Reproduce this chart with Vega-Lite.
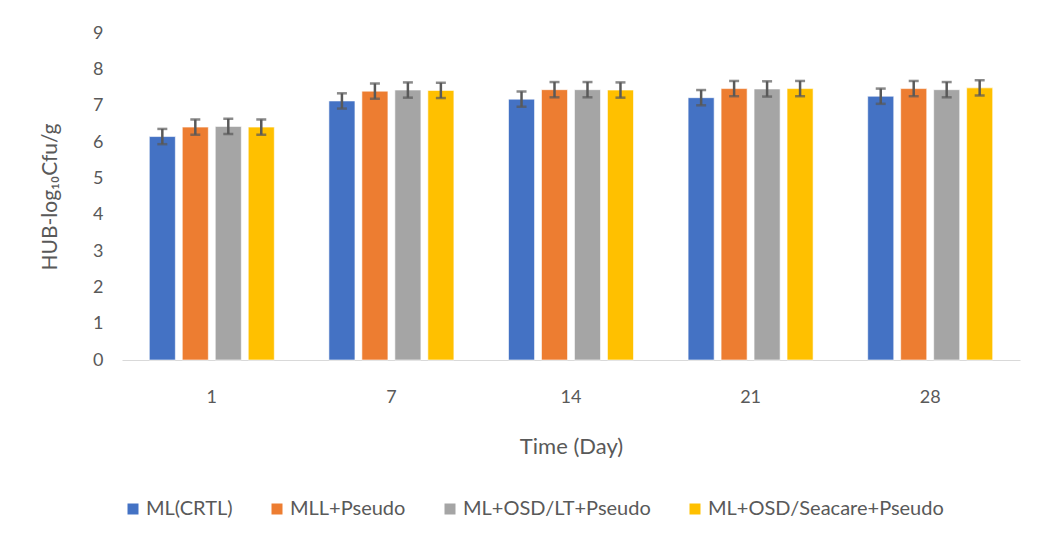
{
  "$schema": "https://vega.github.io/schema/vega-lite/v6.json",
  "autosize": {"type": "none"},
  "width": 898,
  "height": 327,
  "padding": {"left": 122, "top": 33, "right": 19, "bottom": 186},
  "background": "white",
  "config": {
    "view": {"stroke": null},
    "font": "Lato",
    "axis": {"labelFont": "Lato", "titleFont": "Lato", "labelColor": "#595959", "titleColor": "#595959", "titleFontWeight": "normal"},
    "axisY": {"title": "HUB-log₁₀Cfu/g", "values": [0, 1, 2, 3, 4, 5, 6, 7, 8, 9], "labelOverlap": false, "grid": false, "domain": false, "ticks": false, "labelPadding": 19, "labelFontSize": 18, "titleFontSize": 21, "titlePadding": 32},
    "legend": {"labelFont": "Lato"}
  },
  "data": {
    "values": [
      {"day": "1", "group": "ML(CRTL)", "value": 6.15, "low": 5.94, "high": 6.36},
      {"day": "1", "group": "MLL+Pseudo", "value": 6.41, "low": 6.20, "high": 6.62},
      {"day": "1", "group": "ML+OSD/LT+Pseudo", "value": 6.43, "low": 6.22, "high": 6.64},
      {"day": "1", "group": "ML+OSD/Seacare+Pseudo", "value": 6.41, "low": 6.20, "high": 6.62},
      {"day": "7", "group": "ML(CRTL)", "value": 7.13, "low": 6.92, "high": 7.34},
      {"day": "7", "group": "MLL+Pseudo", "value": 7.40, "low": 7.19, "high": 7.61},
      {"day": "7", "group": "ML+OSD/LT+Pseudo", "value": 7.43, "low": 7.22, "high": 7.64},
      {"day": "7", "group": "ML+OSD/Seacare+Pseudo", "value": 7.42, "low": 7.21, "high": 7.63},
      {"day": "14", "group": "ML(CRTL)", "value": 7.18, "low": 6.97, "high": 7.39},
      {"day": "14", "group": "MLL+Pseudo", "value": 7.44, "low": 7.23, "high": 7.65},
      {"day": "14", "group": "ML+OSD/LT+Pseudo", "value": 7.44, "low": 7.23, "high": 7.65},
      {"day": "14", "group": "ML+OSD/Seacare+Pseudo", "value": 7.43, "low": 7.22, "high": 7.64},
      {"day": "21", "group": "ML(CRTL)", "value": 7.22, "low": 7.01, "high": 7.43},
      {"day": "21", "group": "MLL+Pseudo", "value": 7.47, "low": 7.26, "high": 7.68},
      {"day": "21", "group": "ML+OSD/LT+Pseudo", "value": 7.46, "low": 7.25, "high": 7.67},
      {"day": "21", "group": "ML+OSD/Seacare+Pseudo", "value": 7.47, "low": 7.26, "high": 7.68},
      {"day": "28", "group": "ML(CRTL)", "value": 7.26, "low": 7.05, "high": 7.47},
      {"day": "28", "group": "MLL+Pseudo", "value": 7.47, "low": 7.26, "high": 7.68},
      {"day": "28", "group": "ML+OSD/LT+Pseudo", "value": 7.44, "low": 7.23, "high": 7.65},
      {"day": "28", "group": "ML+OSD/Seacare+Pseudo", "value": 7.49, "low": 7.28, "high": 7.70}
    ]
  },
  "encoding": {
    "x": {
      "field": "day", "type": "nominal", "sort": ["1", "7", "14", "21", "28"],
      "scale": {"paddingInner": 0.304, "paddingOuter": 0.152},
      "axis": {"title": "Time (Day)", "labelAngle": 0, "ticks": false, "labelPadding": 28, "labelFontSize": 18, "titleFontSize": 22, "titlePadding": 30, "domainColor": "#D9D9D9", "domainWidth": 1}
    },
    "xOffset": {
      "field": "group", "type": "nominal",
      "sort": ["ML(CRTL)", "MLL+Pseudo", "ML+OSD/LT+Pseudo", "ML+OSD/Seacare+Pseudo"],
      "scale": {"paddingInner": 0.21, "paddingOuter": 0}
    }
  },
  "layer": [
    {
      "mark": {"type": "bar", "stroke": "white", "strokeWidth": 0.6},
      "encoding": {
        "y": {
          "field": "value", "type": "quantitative",
          "scale": {"domain": [0, 9]},
          "axis": {"title": "HUB-log₁₀Cfu/g", "values": [0, 1, 2, 3, 4, 5, 6, 7, 8, 9], "labelOverlap": false}
        },
        "color": {
          "field": "group", "type": "nominal",
          "sort": ["ML(CRTL)", "MLL+Pseudo", "ML+OSD/LT+Pseudo", "ML+OSD/Seacare+Pseudo"],
          "scale": {"range": ["#4472C4", "#ED7D31", "#A5A5A5", "#FFC000"]},
          "legend": {
            "title": null, "orient": "none", "direction": "horizontal",
            "legendX": 1, "legendY": 466,
            "symbolType": "square", "symbolSize": 121, "symbolStrokeWidth": 0,
            "labelFontSize": 20, "labelColor": "#595959", "labelLimit": 400, "columnPadding": 34, "labelOffset": 3
          }
        }
      }
    },
    {
      "mark": {"type": "rule", "color": "#595959", "strokeWidth": 2.5},
      "encoding": {
        "y": {"field": "low", "type": "quantitative", "axis": {"title": "HUB-log₁₀Cfu/g", "values": [0, 1, 2, 3, 4, 5, 6, 7, 8, 9], "labelOverlap": false}},
        "y2": {"field": "high"}
      }
    },
    {
      "mark": {"type": "tick", "color": "#595959", "thickness": 2.5, "size": 10},
      "encoding": {"y": {"field": "low", "type": "quantitative", "axis": {"title": "HUB-log₁₀Cfu/g", "values": [0, 1, 2, 3, 4, 5, 6, 7, 8, 9], "labelOverlap": false}}}
    },
    {
      "mark": {"type": "tick", "color": "#595959", "thickness": 2.5, "size": 10},
      "encoding": {"y": {"field": "high", "type": "quantitative", "axis": {"title": "HUB-log₁₀Cfu/g", "values": [0, 1, 2, 3, 4, 5, 6, 7, 8, 9], "labelOverlap": false}}}
    }
  ]
}
